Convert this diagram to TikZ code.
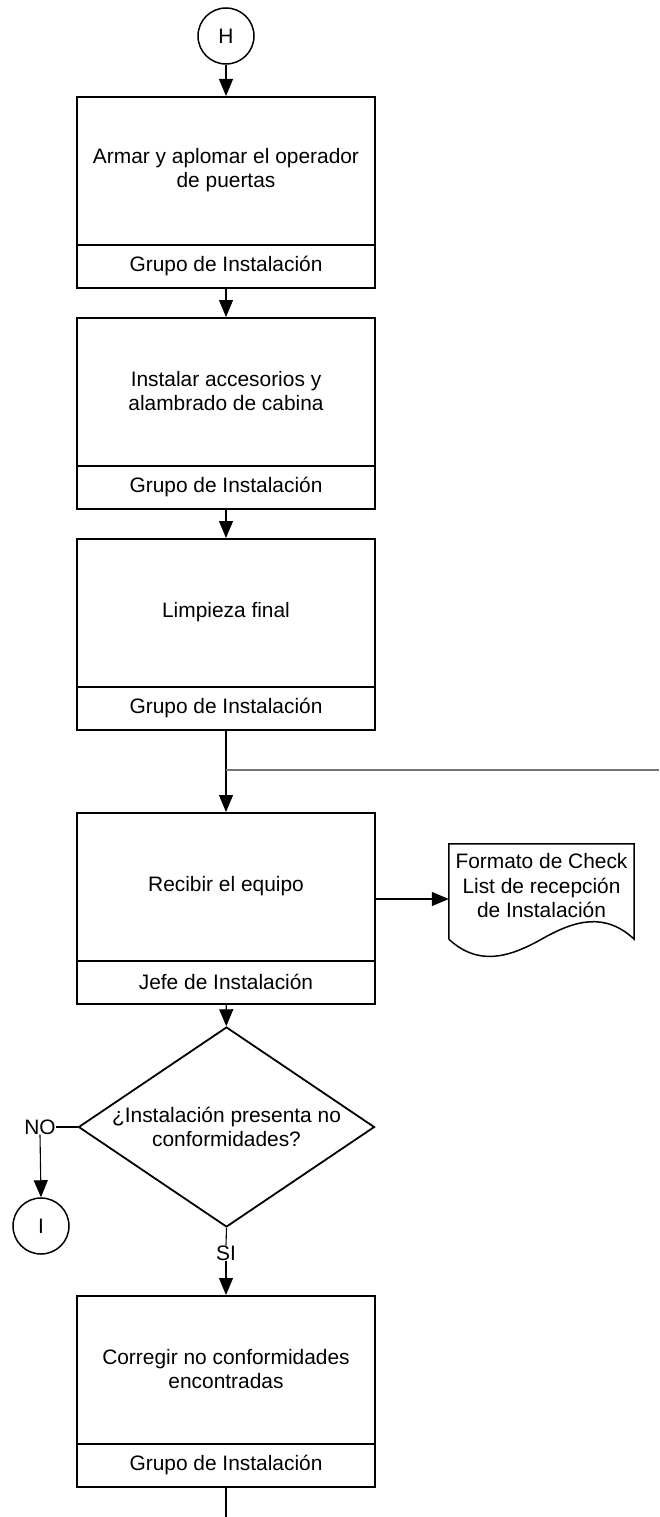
\documentclass[tikz,border=0pt]{standalone}
\usepackage{fontspec}
\setmainfont{Liberation Sans}
\usetikzlibrary{arrows.meta,shapes.geometric}

\tikzset{
  x=1pt, y=-1pt,
  every node/.style={font=\fontsize{20.9}{24.5}\selectfont},
  proc/.style={draw, line width=2pt, minimum width=298pt, minimum height=191pt, inner sep=0pt},
  txt/.style={align=center, inner sep=0pt},
  band/.style={line width=2pt},
  conn/.style={line width=1.1pt},
  arr/.style={conn, -{Triangle[length=17pt,width=14pt]}},
  offpage/.style={draw, circle, line width=1.5pt, minimum size=56pt, inner sep=0pt},
  decide/.style={draw, diamond, line width=1.8pt, minimum width=296pt, minimum height=200pt, inner sep=0pt},
  branch/.style={line width=1.1pt, draw=black!55},
  docframe/.style={minimum width=185pt, minimum height=95pt, inner sep=0pt},
}

% process box: name, centre y, main text y, role text y, main text, role
\newcommand\procbox[6]{%
  \node[proc] (#1) at (226,#2) {};
  \draw[band] ([yshift=44pt]#1.south west) -- ([yshift=44pt]#1.south east);
  \node[txt] (#1t) at (226,#3) {#5};
  \node[txt] (#1r) at (226,#4) {#6};
}

\begin{document}
\begin{tikzpicture}
\useasboundingbox (0,0) rectangle (659,1517);

% connector from the previous page
\node[offpage] (H) at (226,36) {H};

\procbox{b1}{192.5}{170}{266}{Armar y aplomar el operador\\de puertas}{Grupo de Instalación}
\procbox{b2}{413.5}{391}{487}{Instalar accesorios y\\alambrado de cabina}{Grupo de Instalación}
\procbox{b3}{634.5}{612}{708}{Limpieza final}{Grupo de Instalación}
\procbox{b4}{908.5}{886}{982}{Recibir el equipo}{Jefe de Instalación}

% decision
\node[decide] (dm) at (226.5,1127) {};
\node[txt] (dmt) at (226.5,1127) {¿Instalación presenta no\\conformidades?};

\node[txt] (no) at (40,1127) {NO};
\node[offpage] (I) at (41,1226) {I};
\node[txt] (si) at (226,1253) {SI};

\procbox{b5}{1391.5}{1369}{1465}{Corregir no conformidades\\encontradas}{Grupo de Instalación}

% output document with wavy lower edge
\node[docframe] (doc) at (541.5,891.5) {};
\node[txt] (doct) at (541.5,886) {Formato de Check\\List de recepción\\de Instalación};
\draw[line width=1.5pt]
  (doc.south west) -- (doc.north west) -- (doc.north east) -- (doc.south east)
  .. controls (605,912) and (575,920) .. (doc.south)
  .. controls (508,958) and (478,966) .. (doc.south west);

% flow
\coordinate (br) at (226,770);
\coordinate (brEnd) at (659,770);
\coordinate (tail) at (226,1517);

\draw[arr] (H) -- (b1);
\draw[arr] (b1) -- (b2);
\draw[arr] (b2) -- (b3);
\draw[arr] (b3) -- (b4);
\draw[branch] (br) -- (brEnd);
\draw[arr] (b4.east |- 0,899) -- ([yshift=-7.5pt]doc.west);
\draw[arr] (b4) -- (dm);
\draw[conn] (dm.west) -- (no.east);
\draw[arr] (no.south) -- (I.north);
\draw[conn] (dm.south) -- (si.north);
\draw[arr] (si.south) -- (b5.north);
\draw[conn] (b5.south) -- (tail);
\end{tikzpicture}
\end{document}
